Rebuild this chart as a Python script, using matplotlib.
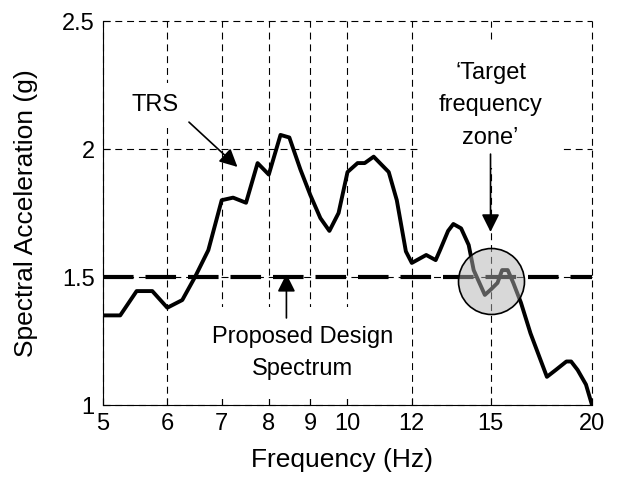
import matplotlib
matplotlib.use('Agg')
import matplotlib.pyplot as plt
from matplotlib.ticker import FixedLocator, FixedFormatter, NullLocator

plt.rcParams['font.family'] = ['Liberation Sans', 'DejaVu Sans']
plt.rcParams['lines.scale_dashes'] = False

# Test Response Spectrum (TRS)
freq = [5.0, 5.25, 5.5, 5.75, 6.0, 6.26, 6.49, 6.74, 7.0, 7.23, 7.5, 7.75, 8.0,
        8.27, 8.48, 8.75, 9.0, 9.26, 9.5, 9.75, 10.0, 10.29, 10.5, 10.77, 11.24,
        11.5, 11.8, 12.0, 12.5, 12.84, 13.0, 13.3, 13.5, 13.8, 14.1, 14.3, 14.76,
        15.0, 15.3, 15.5, 15.75, 16.0, 16.35, 16.8, 17.6, 18.05, 18.6, 18.85,
        19.2, 19.66, 20.0]
acc = [1.35, 1.35, 1.445, 1.445, 1.38, 1.41, 1.50, 1.605, 1.80, 1.81, 1.79,
       1.945, 1.90, 2.055, 2.045, 1.92, 1.82, 1.73, 1.68, 1.75, 1.91, 1.945,
       1.945, 1.97, 1.91, 1.80, 1.60, 1.555, 1.586, 1.566, 1.605, 1.68, 1.707,
       1.69, 1.625, 1.527, 1.43, 1.45, 1.477, 1.527, 1.527, 1.477, 1.40, 1.28,
       1.11, 1.137, 1.17, 1.17, 1.137, 1.08, 1.0]

# Proposed design spectrum (flat)
design_freq = [5, 20]
design_acc = [1.5, 1.5]

xticks = [5, 6, 7, 8, 9, 10, 12, 15, 20]
xtick_labels = ['5', '6', '7', '8', '9', '10', '12', '15', '20']
yticks = [1, 1.5, 2, 2.5]
ytick_labels = ['1', '1.5', '2', '2.5']

zone_freq = [15]
zone_acc = [1.486]

fig = plt.figure(figsize=(6.24, 4.92), dpi=100)
ax = fig.add_axes([103 / 624, 1 - 405 / 492, (592 - 103) / 624, (405 - 21) / 492])
ax.set_xscale('log')
ax.set_xlim(5, 20)
ax.set_ylim(1, 2.5)
ax.xaxis.set_major_locator(FixedLocator(xticks))
ax.xaxis.set_major_formatter(FixedFormatter(xtick_labels))
ax.xaxis.set_minor_locator(NullLocator())
ax.set_yticks(yticks)
ax.set_yticklabels(ytick_labels)
ax.tick_params(direction='in', length=5, width=0.8, labelsize=17, pad=6)
ax.spines['top'].set_visible(False)
ax.spines['right'].set_visible(False)
ax.set_axisbelow(True)
ax.grid(True, color='k', lw=0.8, linestyle=(0, (5, 3.5)))
for gl in ax.get_xgridlines() + ax.get_ygridlines():
    gl.set_clip_on(False)

ax.plot(freq, acc, color='k', lw=2.8, zorder=4)
ax.plot(design_freq, design_acc, color='k', lw=3, linestyle=(0, (22, 8.6)), zorder=3)
ax.plot(zone_freq, zone_acc, 'o', ms=47.5, mfc=(0.7, 0.7, 0.7, 0.5), mec='k',
        mew=1.2, zorder=5)

box_small = dict(boxstyle='square,pad=0.5', fc='white', ec='none')
box = dict(boxstyle='square,pad=0.8', fc='white', ec='none')
arrow = dict(arrowstyle='-|>', color='k', lw=1.2, mutation_scale=27,
             shrinkA=0, shrinkB=0)

ax.text(5.8, 2.17, 'TRS', ha='center', va='center', fontsize=17, bbox=box_small, zorder=3)
ax.annotate('', xy=(7.32, 1.93), xytext=(6.38, 2.105), arrowprops=arrow, zorder=6)

ax.text(15, 2.17, '\u2018Target\nfrequency\nzone\u2019', ha='center', va='center',
        fontsize=17, linespacing=1.6, bbox=box, zorder=3)
ax.annotate('', xy=(15, 1.676), xytext=(15, 1.98), arrowprops=arrow, zorder=6)

ax.text(8.8, 1.203, 'Proposed Design\nSpectrum', ha='center', va='center',
        fontsize=17, linespacing=1.6, bbox=box, zorder=3)
ax.annotate('', xy=(8.41, 1.512), xytext=(8.41, 1.34), arrowprops=arrow, zorder=6)

ax.set_xlabel('Frequency (Hz)', fontsize=19)
ax.set_ylabel('Spectral Acceleration (g)', fontsize=19)
ax.xaxis.set_label_coords((342 - 103) / 489, (405 - 460) / 384)
ax.xaxis.label.set_va('center')
ax.yaxis.set_label_coords((26 - 103) / 489, 0.5)
ax.yaxis.label.set_va('center')

fig.savefig('out.png', dpi=100)
